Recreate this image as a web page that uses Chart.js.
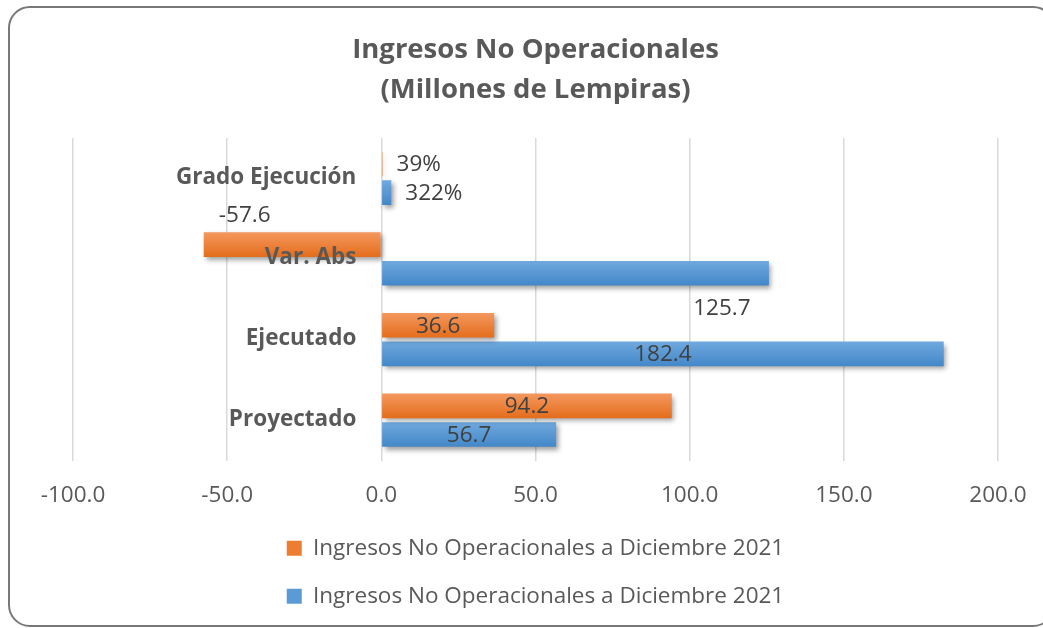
<!DOCTYPE html>
<html>
<head>
<meta charset="utf-8">
<script src="https://cdn.jsdelivr.net/npm/chart.js@4"></script>
<style>
  html, body { margin: 0; padding: 0; background: #fff; overflow: hidden; }
  #wrap { position: relative; width: 1043px; height: 628px; }
  #frame { position: absolute; left: 8px; top: 6px; width: 1047px; height: 621px; box-sizing: border-box;
           border: 2.5px solid #787878; border-radius: 22px; pointer-events: none; }
  canvas { position: absolute; left: 0; top: 0; }
</style>
</head>
<body>
<div id="wrap">
  <canvas id="chart" width="1043" height="628"></canvas>
  <div id="frame"></div>
</div>
<script>
// data
var categories = ['Grado Ejecución', 'Var. Abs', 'Ejecutado', 'Proyectado'];
var seriesNames = ['Ingresos No Operacionales a Diciembre 2021', 'Ingresos No Operacionales a Diciembre 2021'];
var orangeValues = [0.39, -57.6, 36.6, 94.2];
var blueValues = [3.22, 125.7, 182.4, 56.7];
var xTicks = [-100, -50, 0, 50, 100, 150, 200];

var FONT = "'Open Sans', 'Noto Sans', sans-serif";
var TXT = 22.5;
var catPct = 0.71, barPct = 0.86;
var palette = [
    { top: '#F4985F', bottom: '#E46D1B', flat: '#ED7D31' },
    { top: '#70A9DE', bottom: '#4387C8', flat: '#5B9BD5' }
];

function fmt(ci, v) {
    if (ci === 0) return Math.round(v * 100) + '%';
    return v.toFixed(1);
}

// vertical gradient per bar, computed from the category scale
function barFill(c) {
    var p = palette[c.datasetIndex];
    var chart = c.chart, ys = chart.scales.y;
    if (!chart.chartArea || !ys || c.dataIndex === undefined) return p.flat;
    var band = Math.abs(ys.getPixelForValue(1) - ys.getPixelForValue(0));
    var chunk = band * catPct / 2;
    var mid = ys.getPixelForValue(c.dataIndex) + (c.datasetIndex === 0 ? -chunk / 2 : chunk / 2);
    var t = chunk * barPct;
    var g = chart.ctx.createLinearGradient(0, mid - t / 2, 0, mid + t / 2);
    g.addColorStop(0, p.top);
    g.addColorStop(1, p.bottom);
    return g;
}

var shadowPlugin = {
    id: 'barShadow',
    beforeDatasetsDraw: function(chart) {
        var ctx = chart.ctx;
        ctx.save();
        ctx.shadowColor = 'rgba(0,0,0,0.38)';
        ctx.shadowBlur = 5;
        ctx.shadowOffsetX = 2.5;
        ctx.shadowOffsetY = 3;
    },
    afterDatasetsDraw: function(chart) {
        chart.ctx.restore();
    }
};

var labelPlugin = {
    id: 'textLayer',
    afterDraw: function(chart) {
        var ctx = chart.ctx;
        var xs = chart.scales.x, ys = chart.scales.y;
        var zero = xs.getPixelForValue(0);
        ctx.save();
        // category names sit left of the zero line
        ctx.font = 'bold ' + TXT + 'px ' + FONT;
        ctx.fillStyle = '#595959';
        ctx.textAlign = 'right';
        ctx.textBaseline = 'middle';
        categories.forEach(function(name, i) {
            ctx.fillText(name, zero - 25, ys.getPixelForValue(i) - 1);
        });
        // value labels
        ctx.font = TXT + 'px ' + FONT;
        ctx.fillStyle = '#404040';
        chart.data.datasets.forEach(function(ds, di) {
            chart.getDatasetMeta(di).data.forEach(function(bar, ci) {
                var txt = fmt(ci, ds.data[ci]);
                var x, y, align = 'center';
                if (ci === 0) {
                    x = bar.x + 14; y = bar.y + 1; align = 'left';
                } else if (ci === 1 && di === 0) {
                    x = bar.x + 41; y = bar.y - 29;
                } else if (ci === 1 && di === 1) {
                    x = bar.x - 47; y = bar.y + 35;
                } else {
                    x = (bar.x + bar.base) / 2; y = bar.y + 1;
                }
                ctx.textAlign = align;
                ctx.fillText(txt, x, y);
            });
        });
        ctx.restore();
    }
};

var ctx = document.getElementById('chart').getContext('2d');
var chart = new Chart(ctx, {
    type: 'bar',
    data: {
        labels: categories,
        datasets: [{
            label: seriesNames[0],
            data: orangeValues,
            backgroundColor: barFill,
            categoryPercentage: catPct,
            barPercentage: barPct
        },
        {
            label: seriesNames[1],
            data: blueValues,
            backgroundColor: barFill,
            categoryPercentage: catPct,
            barPercentage: barPct
        }]
    },
    options: {
        indexAxis: 'y',
        responsive: false,
        animation: false,
        layout: { padding: { left: 73, right: 45, top: 0, bottom: 10.5 } },
        scales: {
            x: {
                min: -100,
                max: 200,
                afterBuildTicks: function(axis) {
                    axis.ticks = xTicks.map(function(v) { return { value: v }; });
                },
                afterFit: function(axis) {
                    axis.height = 51;
                    axis.paddingLeft = 0;
                    axis.paddingRight = 0;
                },
                grid: { color: '#d9d9d9', lineWidth: 1.5, drawTicks: false },
                border: { display: false },
                ticks: {
                    padding: 22,
                    color: '#595959',
                    font: { family: FONT, size: TXT },
                    maxRotation: 0,
                    callback: function(v) { return Number(v).toFixed(1); }
                }
            },
            y: { display: false }
        },
        plugins: {
            title: {
                display: true,
                text: ['Ingresos No Operacionales', '(Millones de Lempiras)'],
                color: '#595959',
                font: { family: FONT, size: 27.5, weight: 'bold', lineHeight: 1.4545 },
                padding: { top: 30, bottom: 28 }
            },
            legend: {
                position: 'bottom',
                labels: {
                    color: '#595959',
                    font: { family: FONT, size: TXT },
                    boxWidth: 15,
                    boxHeight: 15,
                    padding: 25.5,
                    generateLabels: function(chart) {
                        return chart.data.datasets.map(function(ds, i) {
                            return { text: ds.label, fillStyle: palette[i].flat, strokeStyle: palette[i].flat,
                                     lineWidth: 0, datasetIndex: i, fontColor: '#595959' };
                        });
                    }
                }
            },
            tooltip: { enabled: false }
        }
    },
    plugins: [shadowPlugin, labelPlugin]
});
</script>
</body>
</html>
